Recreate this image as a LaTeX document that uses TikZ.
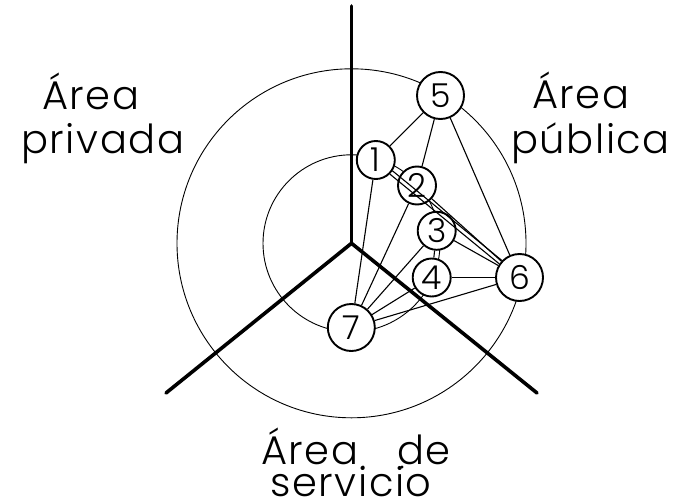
\documentclass[tikz,border=0pt]{standalone}
\usepackage{fontspec}
\setmainfont{Poppins Light}
\newfontfamily\lblfont{Poppins Light}[LetterSpace=4]
\usetikzlibrary{positioning,calc,backgrounds}
\tikzset{
  axisline/.style={line width=3.6pt,line cap=round},
  ring/.style={line width=0.9pt},
  link/.style={line width=1.1pt},
  zone/.style={circle,draw,line width=1.9pt,fill=white,minimum size=38pt,inner sep=0pt,font=\fontsize{33}{33}\selectfont},
  bigzone/.style={zone,minimum size=47pt},
  lbl/.style={inner sep=0pt,anchor=base west,font=\lblfont\fontsize{40}{40}\selectfont}
}

\begin{document}
\begin{tikzpicture}[x=1pt,y=-1pt]
  \useasboundingbox (0,0) rectangle (679,503);
  \coordinate (o) at (351.5,243.3);
  \coordinate (top) at (351.5,6);
  \coordinate (ll) at (166,393);
  \coordinate (lr) at (537,393);

  \node[bigzone] (n5) at (440.5,95.5) {5};
  \node[zone] (n1) at (375.8,160) {1};
  \node[zone] (n2) at (417,185.5) {2};
  \node[zone] (n3) at (436.7,230.8) {3};
  \node[zone] (n4) at (431.7,277.5) {4};
  \node[bigzone] (n6) at (519.5,277.5) {6};
  \node[bigzone] (n7) at (351.3,327.5) {7};

  \begin{scope}[on background layer]
    \draw[ring] (o) circle[radius=88.5];
    \draw[ring] (o) circle[radius=174.5];
    \foreach \e in {top, ll, lr}
      \draw[axisline] (o)--(\e);
    \foreach \a/\b in {n5/n1, n5/n2, n5/n6, n2/n6, n3/n6, n4/n6, n3/n4,
                       n7/n1, n7/n2, n7/n3, n7/n4, n7/n6}
      \draw[link] (\a)--(\b);
  \end{scope}
  \draw[link] (n1.-33)--(n6.136);
  \draw[link] (n1.-45)--(n6.146);

  \node[lbl] (priv1) at (42,109) {Área};
  \node[lbl] (priv2) at (21,153) {privada};
  \node[lbl] (pub1) at (532,108) {Área};
  \node[lbl] (pub2) at (511,153) {pública};
  \node[lbl] (serv1) at (261,464) {Área};
  \node[lbl] (serv2) at (397,464) {de};
  \node[lbl] (serv3) at (270,496) {servicio};
  \fill (363,467) circle[radius=1.6];
  \fill (402,467) circle[radius=1.6];
\end{tikzpicture}
\end{document}
